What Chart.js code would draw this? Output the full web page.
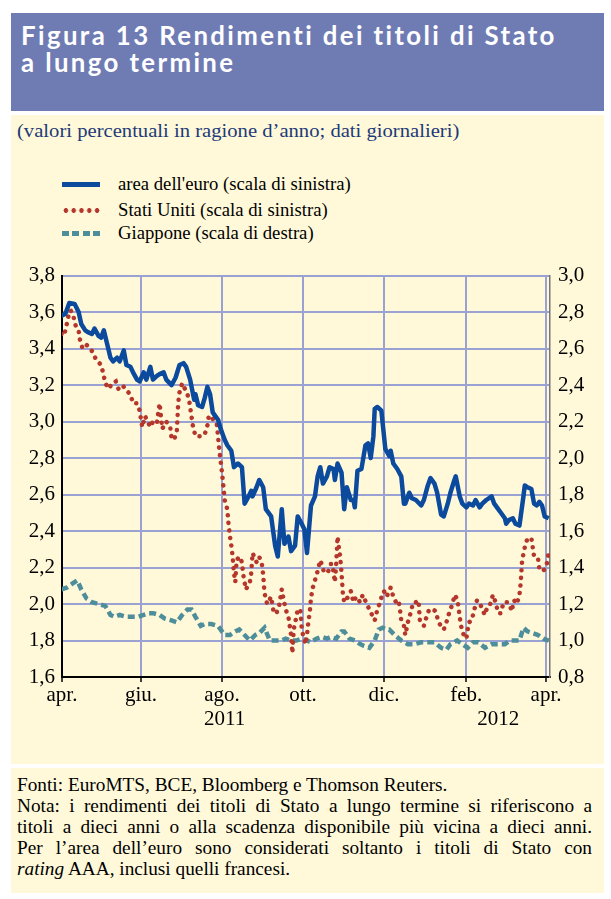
<!DOCTYPE html>
<html>
<head>
<meta charset="utf-8">
<script src="https://cdn.jsdelivr.net/npm/chart.js@4.4.1/dist/chart.umd.min.js"></script>
<style>
  body { margin: 0; background: #fff; width: 611px; height: 899px; position: relative; overflow: hidden; }
  .box { position: absolute; left: 11px; width: 593px; }
  #head { top: 13px; height: 98px; background: #6f7cb4; }
  #title { position: absolute; left: 10px; top: 8px; color: #fff; font-family: Lato, sans-serif; font-weight: 700;
           font-size: 27px; line-height: 27px; letter-spacing: 2.5px; white-space: nowrap;
           transform: scaleX(0.955); transform-origin: left top; }
  #panel { top: 115px; height: 649px; background: #fff9da; }
  #foot { top: 768px; height: 125px; background: #fff9da; }
  #sub { position: absolute; left: 6px; top: 5px; color: #1d3a78; font-family: "Liberation Serif", serif; font-size: 19px;
         white-space: nowrap; transform: scaleX(1.086); transform-origin: left top; }
  .leg { position: absolute; left: 51px; font-family: "Liberation Serif", serif; font-size: 18.7px; color: #000; }
  .leg span { position: absolute; left: 0; width: 38px; height: 5px; top: 9px; }
  .leg b { font-weight: normal; position: absolute; left: 56px; top: 0; white-space: nowrap; }
  #note { position: absolute; left: 6px; top: 6px; width: 575px; font-family: "Liberation Serif", serif; font-size: 19.3px;
          line-height: 21px; color: #000; }
  #note div { text-align: justify; text-align-last: justify; white-space: nowrap; }
  #note div.last { text-align-last: left; }
  #chartBox { position: absolute; left: 11px; top: 255px; }
</style>
</head>
<body>
<div class="box" id="head"><div id="title">Figura 13 Rendimenti dei titoli di Stato<br>a lungo termine</div></div>
<div class="box" id="panel">
  <div id="sub">(valori percentuali in ragione d’anno; dati giornalieri)</div>
  <div class="leg" style="top:58px"><span style="background:#0b4a9c"></span><b>area dell'euro (scala di sinistra)</b></div>
  <div class="leg" style="top:84px"><span style="background:radial-gradient(circle, #b5362b 2.2px, transparent 2.6px) 0 0 / 7.8px 5px repeat-x"></span><b>Stati Uniti (scala di sinistra)</b></div>
  <div class="leg" style="top:107px"><span style="background:repeating-linear-gradient(90deg, #4d8e9a 0 7px, transparent 7px 10.5px)"></span><b>Giappone (scala di destra)</b></div>
</div>
<div class="box" id="foot">
  <div id="note">
    <div class="last">Fonti: EuroMTS, BCE, Bloomberg e Thomson Reuters.</div>
    <div>Nota: i rendimenti dei titoli di Stato a lungo termine si riferiscono a</div>
    <div>titoli a dieci anni o alla scadenza disponibile più vicina a dieci anni.</div>
    <div>Per l’area dell’euro sono considerati soltanto i titoli di Stato con</div>
    <div class="last"><i>rating</i> AAA, inclusi quelli francesi.</div>
  </div>
</div>
<div id="chartBox"><canvas id="chart" width="593" height="485"></canvas></div>

<script>
// giorni dal 1 aprile 2011
const monthTicks = [1.5, 61, 122, 183, 244, 306, 366];
const monthLabels = ['apr.', 'giu.', 'ago.', 'ott.', 'dic.', 'feb.', 'apr.'];
const yearLabels = ['2011', '2012'];
const yearCenters = [124, 330];

const euroDays = [1,4,7,11,14,16,19,21,24,26,29,31,33,35,38,40,43,45,48,50,53,55,58,60,63,65,68,70,73,75,78,80,84,87,90,93,95,98,101,102,104,107,109,111,113,115,117,119,121,124,126,129,131,134,137,139,142,144,145,148,150,153,155,159,162,164,167,169,172,174,177,179,182,184,186,189,192,194,196,198,201,203,206,207,209,212,214,216,219,221,222,224,227,230,232,234,236,237,239,242,245,248,249,251,254,257,259,260,263,265,268,272,274,277,279,282,284,287,289,292,294,297,298,301,303,306,308,311,313,316,318,321,325,327,330,332,335,336,338,341,343,346,349,350,352,355,357,359,361,363,365,368];
const euroValues = [3.58,3.59,3.65,3.645,3.60,3.535,3.50,3.49,3.48,3.51,3.47,3.46,3.50,3.44,3.35,3.33,3.35,3.33,3.39,3.31,3.30,3.27,3.23,3.22,3.27,3.23,3.30,3.23,3.25,3.26,3.27,3.23,3.20,3.24,3.31,3.32,3.30,3.23,3.12,3.15,3.09,3.08,3.13,3.19,3.15,3.05,3.03,3.01,2.96,2.90,2.87,2.84,2.75,2.77,2.75,2.55,2.59,2.62,2.59,2.64,2.68,2.64,2.52,2.48,2.32,2.26,2.52,2.33,2.37,2.29,2.32,2.48,2.44,2.41,2.28,2.54,2.59,2.70,2.75,2.66,2.70,2.75,2.74,2.68,2.77,2.72,2.52,2.64,2.57,2.57,2.53,2.73,2.74,2.87,2.88,2.80,2.92,3.07,3.08,3.06,2.85,2.81,2.84,2.77,2.74,2.70,2.55,2.55,2.61,2.58,2.57,2.54,2.57,2.65,2.69,2.66,2.61,2.49,2.48,2.55,2.61,2.68,2.70,2.59,2.55,2.53,2.55,2.54,2.57,2.53,2.55,2.57,2.59,2.55,2.52,2.50,2.47,2.44,2.46,2.47,2.44,2.43,2.59,2.65,2.64,2.63,2.55,2.54,2.56,2.54,2.48,2.47];

const usDays = [1,3,5,6,8,10,12,14,15,17,20,23,26,27,31,33,34,37,39,42,44,47,50,53,55,58,60,61,62,64,66,68,70,73,74,75,77,80,83,84,86,88,89,90,92,94,97,98,99,100,102,104,107,109,111,112,114,116,118,119,120,122,123,124,126,127,128,129,130,131,132,133,135,137,138,140,143,144,145,148,150,152,153,154,156,159,161,163,165,167,168,170,172,173,174,175,176,178,179,181,182,183,185,186,187,188,189,190,192,194,196,197,199,202,204,205,206,207,208,209,210,211,212,213,214,217,219,221,223,226,228,231,233,235,237,239,241,243,244,246,249,251,253,255,256,257,259,260,262,264,266,268,270,271,274,276,278,281,283,285,287,289,291,293,296,297,299,300,301,302,304,306,307,308,310,312,314,316,318,320,322,324,326,328,330,332,334,337,339,340,342,344,346,347,348,350,352,355,356,357,360,361,363,365,367,368];
const usValues = [3.48,3.47,3.53,3.57,3.61,3.58,3.52,3.50,3.45,3.40,3.42,3.40,3.36,3.34,3.31,3.25,3.21,3.18,3.21,3.22,3.18,3.20,3.17,3.15,3.10,3.10,3.06,3.01,2.97,3.03,3.00,2.97,3.00,2.99,3.05,3.10,2.96,3.00,2.97,2.91,2.90,2.95,3.10,3.16,3.21,3.18,3.13,3.08,3.03,2.98,2.92,2.92,2.92,2.93,2.98,3.03,3.03,3.00,2.99,2.92,2.84,2.72,2.65,2.57,2.52,2.43,2.37,2.32,2.26,2.17,2.12,2.24,2.26,2.23,2.16,2.08,2.12,2.17,2.28,2.23,2.26,2.22,2.16,2.06,2.00,2.04,1.95,1.95,1.99,2.08,2.04,1.97,1.93,1.88,1.83,1.73,1.86,1.93,1.97,1.97,1.87,1.83,1.78,1.83,1.90,1.95,2.03,2.08,2.13,2.18,2.24,2.22,2.17,2.18,2.22,2.22,2.17,2.12,2.22,2.37,2.31,2.26,2.17,2.06,2.01,2.04,2.07,2.01,2.04,2.01,2.05,2.00,1.97,1.94,1.91,1.97,2.01,2.06,2.07,2.04,2.09,2.04,2.01,2.02,1.97,1.91,1.88,1.83,1.90,1.95,2.01,2.01,2.02,1.91,1.88,1.93,1.97,1.97,1.96,1.90,1.88,1.86,1.90,1.95,2.01,2.05,2.03,1.99,1.93,1.88,1.83,1.81,1.86,1.90,1.91,1.97,2.02,2.01,1.97,1.94,1.99,2.00,2.05,2.01,1.95,1.95,2.01,2.01,1.99,1.96,2.02,2.00,2.05,2.12,2.24,2.31,2.36,2.36,2.31,2.26,2.25,2.19,2.18,2.19,2.23,2.29];

const jpDays = [1,5,9,13,16,20,24,29,34,38,41,45,50,55,59,63,67,70,75,79,84,88,92,96,99,102,106,109,114,119,124,128,132,135,139,143,147,150,154,158,162,167,170,174,178,182,186,189,193,197,201,204,208,212,214,218,222,226,229,233,237,240,243,246,248,252,257,262,267,272,277,282,287,291,294,299,303,307,311,315,320,325,330,335,339,342,346,349,352,356,360,364,368];
const jpValues = [1.28,1.29,1.31,1.33,1.28,1.23,1.21,1.20,1.19,1.14,1.13,1.14,1.13,1.13,1.13,1.14,1.15,1.15,1.14,1.12,1.11,1.10,1.14,1.17,1.17,1.13,1.08,1.09,1.09,1.08,1.03,1.03,1.05,1.06,1.03,1.00,1.03,1.04,1.07,1.00,1.00,1.00,1.01,1.00,1.00,1.01,1.00,0.99,1.01,1.02,1.01,1.02,1.01,1.05,1.05,1.01,1.00,0.98,0.97,0.96,1.00,1.06,1.07,1.06,1.06,1.03,1.00,0.98,0.98,0.99,0.99,0.99,0.96,0.95,0.98,1.00,0.98,0.96,0.99,0.99,0.96,0.98,0.98,0.98,1.00,1.00,1.00,1.07,1.05,1.04,1.03,1.01,1.00];

const toPoints = (days, vals) => days.map((d, i) => ({ x: d, y: vals[i] }));
const comma = v => v.toFixed(1).replace('.', ',');
const serif = { family: '"Liberation Serif", serif', size: 21 };
const gridColor = '#9aa2d4';

// etichette degli anni sotto i mesi
const yearPlugin = {
    id: 'years',
    afterDraw(chart) {
        const ctx = chart.ctx;
        const xs = chart.scales.x;
        ctx.save();
        ctx.fillStyle = '#000';
        ctx.font = '21px "Liberation Serif", serif';
        ctx.textAlign = 'center';
        ctx.textBaseline = 'middle';
        yearLabels.forEach((t, i) => ctx.fillText(t, xs.getPixelForValue(yearCenters[i]), 464));
        ctx.restore();
    }
};

new Chart(document.getElementById('chart'), {
    type: 'line',
    data: {
        datasets: [
            {
                label: "area dell'euro (scala di sinistra)",
                data: toPoints(euroDays, euroValues),
                borderColor: '#0b4a9c',
                borderWidth: 4.5,
                borderJoinStyle: 'round',
                yAxisID: 'y'
            },
            {
                label: 'Stati Uniti (scala di sinistra)',
                data: toPoints(usDays, usValues),
                borderColor: '#b5362b',
                borderWidth: 4.5,
                borderDash: [0.1, 7.5],
                borderCapStyle: 'round',
                yAxisID: 'y'
            },
            {
                label: 'Giappone (scala di destra)',
                data: toPoints(jpDays, jpValues),
                borderColor: '#4d8e9a',
                borderWidth: 4.5,
                borderDash: [7, 4],
                yAxisID: 'y1'
            }
        ]
    },
    options: {
        responsive: false,
        animation: false,
        devicePixelRatio: 1,
        layout: { padding: { top: 16, left: 0, right: 0, bottom: 0 } },
        elements: { point: { radius: 0 }, line: { tension: 0 } },
        plugins: { legend: { display: false }, tooltip: { enabled: false } },
        scales: {
            x: {
                type: 'linear',
                min: 1.5,
                max: 369,
                afterBuildTicks: s => { s.ticks = monthTicks.map(v => ({ value: v })); },
                afterFit: s => { s.height = 63; },
                ticks: {
                    color: '#000',
                    font: serif,
                    padding: 1,
                    maxRotation: 0,
                    autoSkip: false,
                    callback: (v, i) => monthLabels[i]
                },
                grid: { color: gridColor, lineWidth: 2, tickColor: '#000', tickLength: 5, tickWidth: 1.5 },
                border: { color: '#000', width: 2 }
            },
            y: {
                position: 'left',
                min: 1.6,
                max: 3.8,
                afterFit: s => { s.width = 51; },
                ticks: { stepSize: 0.2, color: '#000', font: serif, padding: 7, callback: v => comma(v) },
                grid: { color: gridColor, lineWidth: 2, drawTicks: false },
                border: { color: '#000', width: 2 }
            },
            y1: {
                position: 'right',
                min: 0.8,
                max: 3.0,
                afterFit: s => { s.width = 54; },
                ticks: { stepSize: 0.2, color: '#000', font: serif, padding: 8, callback: v => comma(v) },
                grid: { drawOnChartArea: false, drawTicks: false },
                border: { color: '#777', width: 1.5 }
            }
        }
    },
    plugins: [yearPlugin]
});
</script>
</body>
</html>
